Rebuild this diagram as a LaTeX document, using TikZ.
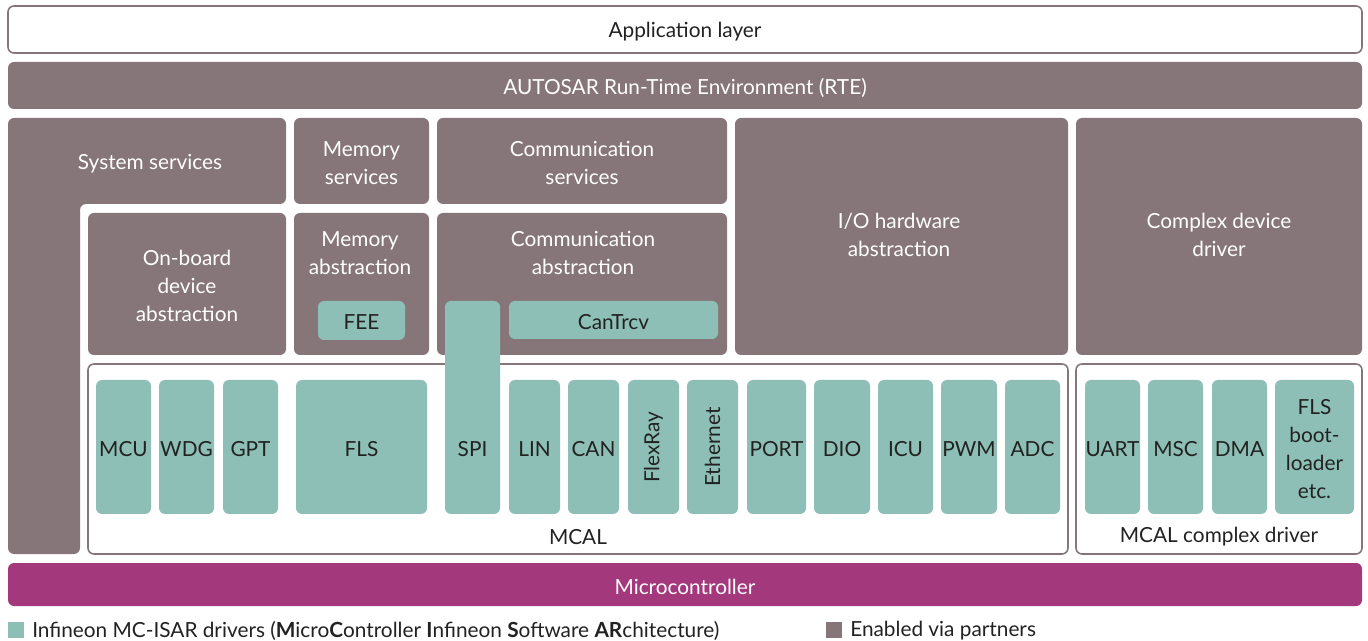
\documentclass[tikz,border=0pt]{standalone}
\usepackage{fontspec}
\setmainfont{Lato}
\usetikzlibrary{fit}
\definecolor{partner}{HTML}{877679}
\definecolor{ifx}{HTML}{8DBFB6}
\definecolor{mcu}{HTML}{A3387C}
\definecolor{ink}{HTML}{222222}
\tikzset{
  base/.style={inner sep=0pt, rounded corners=4.5pt, align=center},
  graybox/.style={base, fill=partner, text=white},
  tealbox/.style={base, fill=ifx, text=ink},
  whitebox/.style={base, fill=white, draw=partner, line width=1.2pt, text=ink},
  lbl/.style={inner sep=0pt, font=\fontsize{15.6}{21}\selectfont, align=center, yshift=-1.5pt},
}
\begin{document}
\begin{tikzpicture}[x=0.75pt,y=-0.75pt]
\useasboundingbox[fill=white] (0,0) rectangle (1368,641);
% top layers
\node[whitebox, fit={(8,6)(1362,53)}] (app) {};
\node[lbl, text=ink] at (app.center) {Application layer};
\node[graybox, fit={(8,62)(1362,109)}] (rte) {};
\node[lbl, text=white] at (rte.center) {AUTOSAR Run-Time Environment (RTE)};
% system services L-shape
\path[fill=partner, rounded corners=4.5pt] (8,118) -- (286,118) -- (286,204) -- (80,204) -- (80,554) -- (8,554) -- cycle;
\coordinate (sysc) at (150,162);
\node[lbl, text=white] (sys) at (sysc) {System services};
% services row
\node[graybox, fit={(294,118)(429,204)}] (memsrv) {};
\node[lbl, text=white] at (memsrv.center) {Memory\\services};
\node[graybox, fit={(437,118)(727,204)}] (comsrv) {};
\node[lbl, text=white] at (comsrv.center) {Communication\\services};
\node[graybox, fit={(735,118)(1068,355)}] (iohw) {};
\node[lbl, text=white] at (899,233) {I/O hardware\\abstraction};
\node[graybox, fit={(1076,118)(1362,355)}] (cdd) {};
\node[lbl, text=white] at (1219,233) {Complex device\\driver};
% abstraction row
\node[graybox, fit={(88,213)(286,355)}] (onb) {};
\node[lbl, text=white] at (onb.center) {On-board\\device\\abstraction};
\node[graybox, fit={(294,213)(429,355)}] (memab) {};
\node[lbl, text=white] at (360,251) {Memory\\abstraction};
\node[tealbox, fit={(318,301)(405,340)}] (fee) {};
\node[lbl, text=ink] at (fee.center) {FEE};
\node[graybox, fit={(437,213)(727,355)}] (comab) {};
\node[lbl, text=white] at (583,251) {Communication\\abstraction};
\node[tealbox, fit={(509,301)(718,339)}] (cantrcv) {};
\node[lbl, text=ink] at (cantrcv.center) {CanTrcv};
% MCAL frames
\node[whitebox, fit={(88,364)(1068,554)}] (mcal) {};
\node[lbl, text=ink] at (578,535) {MCAL};
\node[whitebox, fit={(1076,364)(1362,554)}] (mcalcd) {};
\node[lbl, text=ink] at (1219,535) {MCAL complex driver};
% SPI spans abstraction and MCAL
\node[tealbox, fit={(445,301)(500,514)}] (spi) {};
\node[lbl, text=ink] at (472.5,447) {SPI};
% MCAL drivers
\foreach \n/\a/\b in {MCU/96/151, WDG/159/214, GPT/223/278, FLS/296/427, LIN/509/560, CAN/568/619, PORT/747/806, DIO/814/870, ICU/878/933, PWM/941/997, ADC/1005/1060, UART/1085/1140, MSC/1148/1203, DMA/1212/1267}{
  \node[tealbox, fit={(\a,380)(\b,514)}] (d\n) {};
  \node[lbl, text=ink] at (d\n.center) {\n};
}
\node[tealbox, fit={(628,380)(679,514)}] (dflex) {};
\node[lbl, text=ink, rotate=90, xshift=1.5pt, yshift=0pt] at (dflex.center) {FlexRay};
\node[tealbox, fit={(687,380)(738,514)}] (deth) {};
\node[lbl, text=ink, rotate=90, xshift=1.5pt, yshift=0pt] at (deth.center) {Ethernet};
\node[tealbox, fit={(1275,380)(1354,514)}] (dboot) {};
\node[lbl, text=ink] at (dboot.center) {FLS\\boot-\\loader\\etc.};
% microcontroller
\node[base, fill=mcu, fit={(8,563)(1362,606)}] (uc) {};
\node[lbl, text=white] at (uc.center) {Microcontroller};
% legend
\node[fill=ifx, minimum size=12pt, inner sep=0pt] (legA) at (16,630) {};
\node[lbl, anchor=west, text=ink] at (32,628.5) {Infineon MC-ISAR drivers (\textbf{M}icro\textbf{C}ontroller \textbf{I}nfineon \textbf{S}oftware \textbf{AR}chitecture)};
\node[fill=partner, minimum size=12pt, inner sep=0pt] (legB) at (834,630) {};
\node[lbl, anchor=west, text=ink] at (850,628.5) {Enabled via partners};
\end{tikzpicture}
\end{document}
